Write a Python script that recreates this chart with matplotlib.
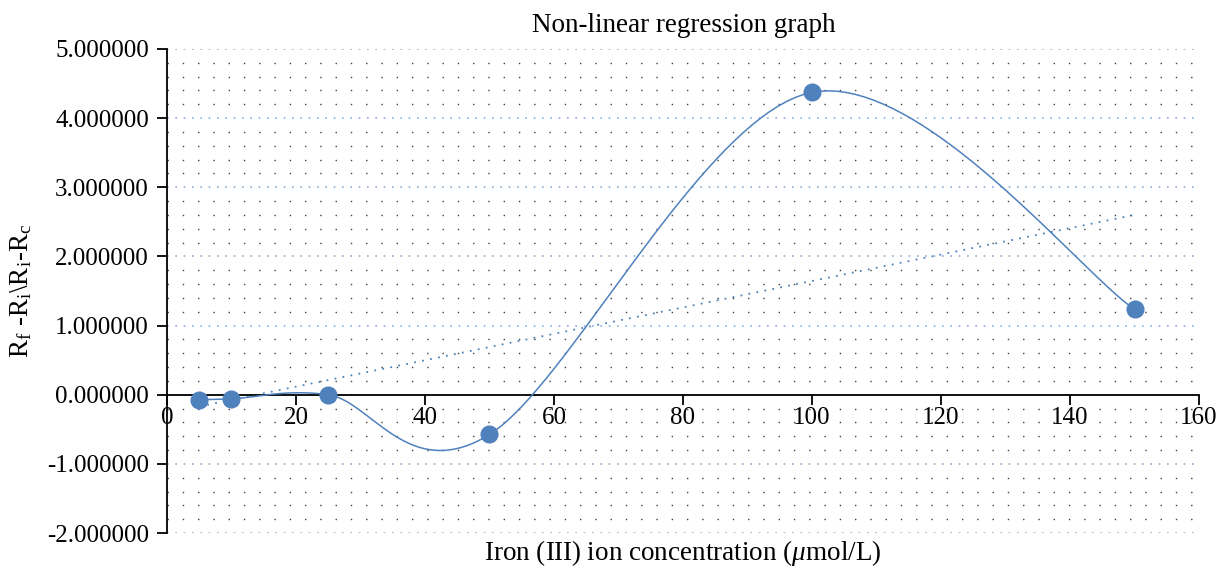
import matplotlib
matplotlib.use("Agg")
import matplotlib.pyplot as plt
from matplotlib.ticker import MultipleLocator, FormatStrFormatter
import numpy as np

# data
conc = [5, 10, 25, 50, 100, 150]
ratio = [-0.07, -0.06, 0.0, -0.575, 4.373, 1.235]

x_ticks = [0, 20, 40, 60, 80, 100, 120, 140, 160]
y_ticks = [-2, -1, 0, 1, 2, 3, 4, 5]

blue = "#4F81BD"

plt.rcParams['font.family'] = ['Liberation Serif', 'DejaVu Serif']
plt.rcParams['mathtext.fontset'] = 'custom'
plt.rcParams['mathtext.rm'] = 'Liberation Serif'
plt.rcParams['mathtext.it'] = 'Liberation Serif:italic'


def smooth(xs, ys, n=40):
    # excel-like smoothed line: cubic bezier with control points from neighbours
    px = list(xs)
    py = list(ys)
    outx, outy = [], []
    t = np.linspace(0, 1, n)
    for i in range(len(px) - 1):
        i0 = max(i - 1, 0)
        i3 = min(i + 2, len(px) - 1)
        c1x = px[i] + (px[i + 1] - px[i0]) / 6.0
        c1y = py[i] + (py[i + 1] - py[i0]) / 6.0
        c2x = px[i + 1] - (px[i3] - px[i]) / 6.0
        c2y = py[i + 1] - (py[i3] - py[i]) / 6.0
        a = (1 - t) ** 3
        b = 3 * (1 - t) ** 2 * t
        c = 3 * (1 - t) * t ** 2
        d = t ** 3
        outx.extend(a * px[i] + b * c1x + c * c2x + d * px[i + 1])
        outy.extend(a * py[i] + b * c1y + c * c2y + d * py[i + 1])
    return outx, outy


fig = plt.figure(figsize=(12.25, 5.75), dpi=100)
ax = fig.add_axes([0.1363, 0.073, 0.8425, 0.8418])

ax.set_xlim(0, 160)
ax.set_ylim(-2, 5)

# grid
ax.yaxis.set_minor_locator(MultipleLocator(0.2))
ax.grid(True, which='minor', axis='y', color='#404040', linewidth=1.0,
        linestyle=(0, (1, 10)), zorder=0)
ax.grid(True, which='major', axis='y', color='#8AAEDC', linewidth=1.2,
        linestyle=(0, (1, 4)), zorder=0)
ax.tick_params(axis='y', which='minor', length=0)

# linear trendline
k, b0 = np.polyfit(conc, ratio, 1)
tx = np.array([conc[0], conc[-1]])
ax.plot(tx, k * tx + b0, color=blue, linewidth=1.3, linestyle=(0, (1, 3.5)), zorder=2)

# smoothed series
sx, sy = smooth(conc, ratio)
ax.plot(sx, sy, color=blue, linewidth=1.1, zorder=3)
ax.plot(conc, ratio, linestyle='none', marker='o', markersize=12,
        color=blue, zorder=4)

# axes
for s in ['top', 'right', 'bottom']:
    ax.spines[s].set_visible(False)
ax.spines['left'].set_linewidth(1.3)
ax.spines['left'].set_position(('data', 0))
ax.spines['bottom'].set_visible(True)
ax.spines['bottom'].set_position(('data', 0))
ax.spines['bottom'].set_linewidth(1.3)

ax.set_xticks(x_ticks)
ax.set_yticks(y_ticks)
ax.yaxis.set_major_formatter(FormatStrFormatter('%.6f'))
ax.tick_params(axis='both', which='major', direction='out', labelsize=18,
               width=1.3, length=7, pad=4)
ax.tick_params(axis='x', which='major', pad=2)
ax.tick_params(axis='y', which='major', pad=6)

fig.text(0.5584, 0.955, 'Non-linear regression graph', ha='center', va='center',
         fontsize=19.5)
fig.text(0.557, 0.038, r'Iron (III) ion concentration ($\mathit{\mu}$mol/L)',
         ha='center', va='center', fontsize=19.5)
fig.text(0.017, 0.495,
         r'R$_\mathregular{f}$ -R$_\mathregular{i}$\R$_\mathregular{i}$-R$_\mathregular{c}$',
         ha='center', va='center', rotation=90, fontsize=19.5)

plt.savefig('out.png', dpi=100)
